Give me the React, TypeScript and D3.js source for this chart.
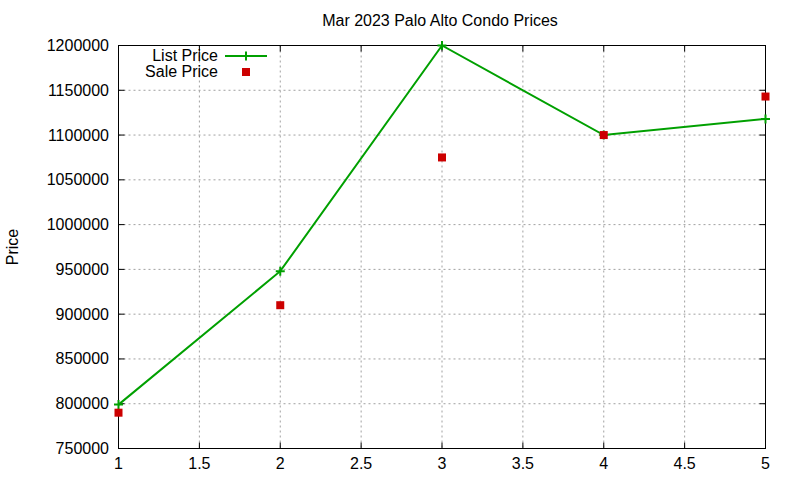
import React, { useEffect, useRef } from "react";
import * as d3 from "d3";

const xs = [1, 2, 3, 4, 5];
const listPrice = [799000, 948000, 1200000, 1100000, 1118000];
const salePrice = [790000, 910000, 1075000, 1100000, 1143000];
const xTicks = [1, 1.5, 2, 2.5, 3, 3.5, 4, 4.5, 5];
const yTicks = [750000, 800000, 850000, 900000, 950000, 1000000, 1050000, 1100000, 1150000, 1200000];
const title = "Mar 2023 Palo Alto Condo Prices";
const yLabel = "Price";
const seriesNames = ["List Price", "Sale Price"];

export default function App() {
  const ref = useRef<SVGSVGElement>(null);
  useEffect(() => {
    const svg = d3.select(ref.current);
    svg.selectAll("*").remove();
    const W = 800, H = 480;
    const L = 118.5, R = 765.5, T = 45.5, B = 448.5;
    const x = d3.scaleLinear().domain([1, 5]).range([L, R]);
    const y = d3.scaleLinear().domain([750000, 1200000]).range([B, T]);
    const font = "'Liberation Sans', Arial, sans-serif";
    svg.append("rect").attr("width", W).attr("height", H).attr("fill", "#fff");

    // grid
    const g = svg.append("g");
    xTicks.slice(1, -1).forEach((t) => {
      g.append("line").attr("x1", x(t)).attr("x2", x(t)).attr("y1", T).attr("y2", B)
        .attr("stroke", "#a0a0a0").attr("stroke-width", 1).attr("stroke-dasharray", "2,3");
    });
    yTicks.slice(1, -1).forEach((t) => {
      g.append("line").attr("x1", L).attr("x2", R).attr("y1", y(t)).attr("y2", y(t))
        .attr("stroke", "#a0a0a0").attr("stroke-width", 1).attr("stroke-dasharray", "2,3");
    });

    // ticks
    const tl = 6;
    xTicks.forEach((t) => {
      g.append("line").attr("x1", x(t)).attr("x2", x(t)).attr("y1", B).attr("y2", B - tl).attr("stroke", "#000");
      g.append("line").attr("x1", x(t)).attr("x2", x(t)).attr("y1", T).attr("y2", T + tl).attr("stroke", "#000");
      svg.append("text").attr("x", x(t)).attr("y", 469).attr("text-anchor", "middle")
        .attr("font-family", font).attr("font-size", 16).text(String(t));
    });
    yTicks.forEach((t) => {
      g.append("line").attr("x1", L).attr("x2", L + tl).attr("y1", y(t)).attr("y2", y(t)).attr("stroke", "#000");
      g.append("line").attr("x1", R).attr("x2", R - tl).attr("y1", y(t)).attr("y2", y(t)).attr("stroke", "#000");
      svg.append("text").attr("x", 109).attr("y", y(t) + 5.5).attr("text-anchor", "end")
        .attr("font-family", font).attr("font-size", 16).text(String(t));
    });

    // frame
    svg.append("rect").attr("x", L).attr("y", T).attr("width", R - L).attr("height", B - T)
      .attr("fill", "none").attr("stroke", "#000").attr("stroke-width", 1);

    // title & label
    svg.append("text").attr("x", 440).attr("y", 26).attr("text-anchor", "middle")
      .attr("font-family", font).attr("font-size", 16).text(title);
    svg.append("text").attr("transform", "translate(18,247) rotate(-90)").attr("text-anchor", "middle")
      .attr("font-family", font).attr("font-size", 16).text(yLabel);

    const green = "#00a000";
    const red = "#cc0000";
    const line = d3.line<number>().x((_, i) => x(xs[i])).y((d) => y(d));
    svg.append("path").attr("d", line(listPrice)).attr("fill", "none").attr("stroke", green).attr("stroke-width", 2);
    const cross = (cx: number, cy: number) => {
      svg.append("path").attr("d", `M${cx - 4.5},${cy}H${cx + 4.5}M${cx},${cy - 4.5}V${cy + 4.5}`)
        .attr("stroke", green).attr("stroke-width", 2);
    };
    listPrice.forEach((v, i) => cross(x(xs[i]), y(v)));
    const sq = (cx: number, cy: number) => {
      svg.append("rect").attr("x", cx - 4).attr("y", cy - 4).attr("width", 8).attr("height", 8).attr("fill", red);
    };
    salePrice.forEach((v, i) => sq(x(xs[i]), y(v)));

    // legend
    svg.append("text").attr("x", 218).attr("y", 61).attr("text-anchor", "end")
      .attr("font-family", font).attr("font-size", 16).text(seriesNames[0]);
    svg.append("line").attr("x1", 225).attr("x2", 267).attr("y1", 56).attr("y2", 56).attr("stroke", green).attr("stroke-width", 2);
    cross(246, 56);
    svg.append("text").attr("x", 218).attr("y", 77).attr("text-anchor", "end")
      .attr("font-family", font).attr("font-size", 16).text(seriesNames[1]);
    sq(246, 72);
  }, []);
  return <svg ref={ref} width={800} height={480} style={{ position: "absolute", left: 0, top: 0 }} />;
}
